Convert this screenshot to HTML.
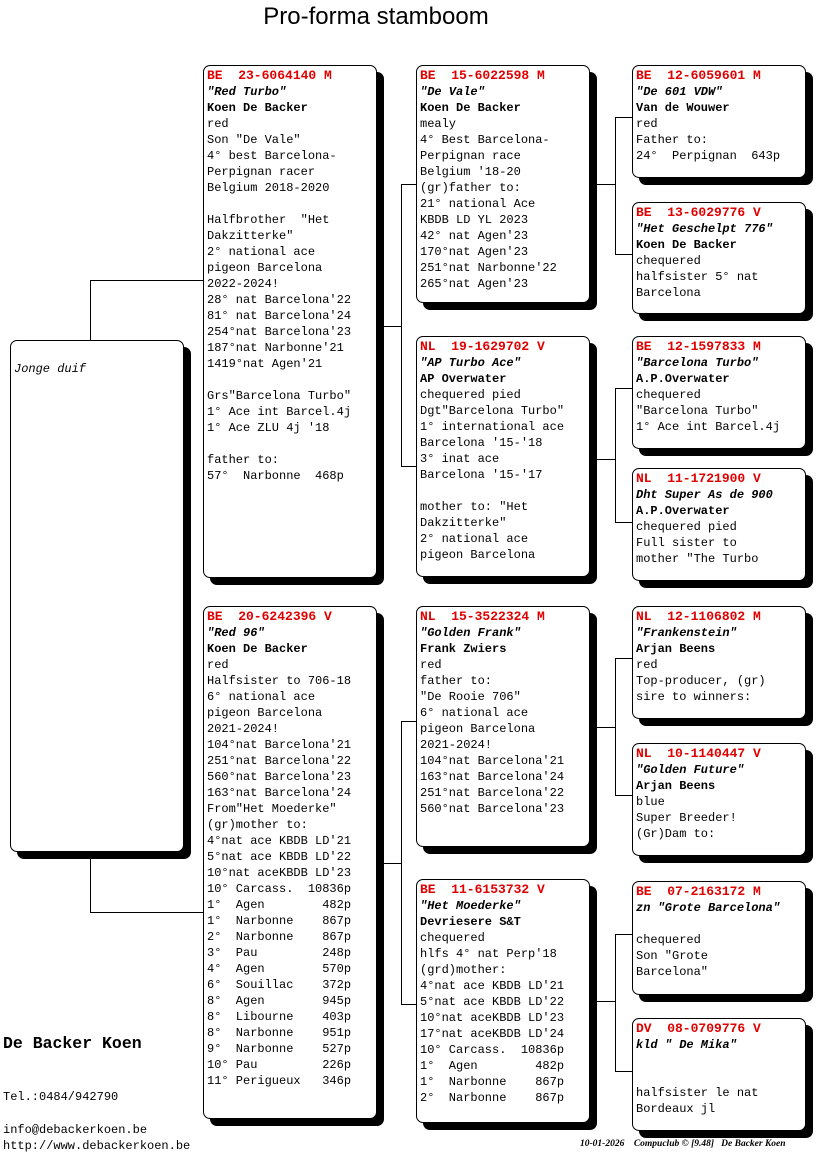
<!DOCTYPE html>
<html><head><meta charset="utf-8"><style>
body{margin:0;width:816px;height:1172px;background:#fff;position:relative;overflow:hidden;font-family:"Liberation Mono",monospace;font-size:12px;color:#000}
.b{position:absolute;border:1px solid #000;border-radius:7px;background:#fff;box-shadow:7px 7px 0 #000;box-sizing:border-box;padding:2px 0 0 3px;line-height:16px;white-space:pre}
.h{color:#e00000;font-weight:bold;font-size:13px}
.i{font-style:italic;font-weight:bold}
.n{font-weight:bold}
.l{position:absolute;background:#000}
.t{position:absolute;white-space:pre}
</style></head><body>
<div class="t" style="left:0;width:752px;top:3px;text-align:center;font-family:'Liberation Sans',sans-serif;font-size:24px">Pro-forma stamboom</div>

<!-- connectors -->
<div class="l" style="left:90px;top:280px;width:1px;height:60px"></div>
<div class="l" style="left:90px;top:280px;width:113px;height:1px"></div>
<div class="l" style="left:90px;top:851px;width:1px;height:62px"></div>
<div class="l" style="left:90px;top:912px;width:113px;height:1px"></div>

<div class="l" style="left:383px;top:326px;width:19px;height:1px"></div>
<div class="l" style="left:401px;top:184px;width:1px;height:283px"></div>
<div class="l" style="left:401px;top:184px;width:15px;height:1px"></div>
<div class="l" style="left:401px;top:466px;width:15px;height:1px"></div>

<div class="l" style="left:383px;top:863px;width:19px;height:1px"></div>
<div class="l" style="left:401px;top:721px;width:1px;height:284px"></div>
<div class="l" style="left:401px;top:721px;width:15px;height:1px"></div>
<div class="l" style="left:401px;top:1004px;width:15px;height:1px"></div>

<div class="l" style="left:596px;top:184px;width:19px;height:1px"></div>
<div class="l" style="left:615px;top:117px;width:1px;height:138px"></div>
<div class="l" style="left:615px;top:117px;width:17px;height:1px"></div>
<div class="l" style="left:615px;top:254px;width:17px;height:1px"></div>

<div class="l" style="left:596px;top:459px;width:19px;height:1px"></div>
<div class="l" style="left:615px;top:388px;width:1px;height:135px"></div>
<div class="l" style="left:615px;top:388px;width:17px;height:1px"></div>
<div class="l" style="left:615px;top:522px;width:17px;height:1px"></div>

<div class="l" style="left:596px;top:727px;width:19px;height:1px"></div>
<div class="l" style="left:615px;top:658px;width:1px;height:138px"></div>
<div class="l" style="left:615px;top:658px;width:17px;height:1px"></div>
<div class="l" style="left:615px;top:795px;width:17px;height:1px"></div>

<div class="l" style="left:596px;top:1001px;width:19px;height:1px"></div>
<div class="l" style="left:615px;top:934px;width:1px;height:138px"></div>
<div class="l" style="left:615px;top:934px;width:17px;height:1px"></div>
<div class="l" style="left:615px;top:1071px;width:17px;height:1px"></div>

<!-- root -->
<div class="b" style="left:10px;top:340px;width:174px;height:512px;padding-top:20px"><span style="font-style:italic">Jonge duif</span></div>

<!-- col2 -->
<div class="b" style="left:203px;top:65px;width:174px;height:513px"><span class="h">BE  23-6064140 M</span>
<span class="i">"Red Turbo"</span>
<span class="n">Koen De Backer</span>
red
Son "De Vale"
4° best Barcelona-
Perpignan racer
Belgium 2018-2020

Halfbrother  "Het
Dakzitterke"
2° national ace
pigeon Barcelona
2022-2024!
28° nat Barcelona'22
81° nat Barcelona'24
254°nat Barcelona'23
187°nat Narbonne'21
1419°nat Agen'21

Grs"Barcelona Turbo"
1° Ace int Barcel.4j
1° Ace ZLU 4j '18

father to:
57°  Narbonne  468p</div>

<div class="b" style="left:203px;top:606px;width:174px;height:513px"><span class="h">BE  20-6242396 V</span>
<span class="i">"Red 96"</span>
<span class="n">Koen De Backer</span>
red
Halfsister to 706-18
6° national ace
pigeon Barcelona
2021-2024!
104°nat Barcelona'21
251°nat Barcelona'22
560°nat Barcelona'23
163°nat Barcelona'24
From"Het Moederke"
(gr)mother to:
4°nat ace KBDB LD'21
5°nat ace KBDB LD'22
10°nat aceKBDB LD'23
10° Carcass.  10836p
1°  Agen        482p
1°  Narbonne    867p
2°  Narbonne    867p
3°  Pau         248p
4°  Agen        570p
6°  Souillac    372p
8°  Agen        945p
8°  Libourne    403p
8°  Narbonne    951p
9°  Narbonne    527p
10° Pau         226p
11° Perigueux   346p</div>

<!-- col3 -->
<div class="b" style="left:416px;top:65px;width:174px;height:238px"><span class="h">BE  15-6022598 M</span>
<span class="i">"De Vale"</span>
<span class="n">Koen De Backer</span>
mealy
4° Best Barcelona-
Perpignan race
Belgium '18-20
(gr)father to:
21° national Ace
KBDB LD YL 2023
42° nat Agen'23
170°nat Agen'23
251°nat Narbonne'22
265°nat Agen'23</div>

<div class="b" style="left:416px;top:336px;width:174px;height:241px"><span class="h">NL  19-1629702 V</span>
<span class="i">"AP Turbo Ace"</span>
<span class="n">AP Overwater</span>
chequered pied
Dgt"Barcelona Turbo"
1° international ace
Barcelona '15-'18
3° inat ace
Barcelona '15-'17

mother to: "Het
Dakzitterke"
2° national ace
pigeon Barcelona</div>

<div class="b" style="left:416px;top:606px;width:174px;height:241px"><span class="h">NL  15-3522324 M</span>
<span class="i">"Golden Frank"</span>
<span class="n">Frank Zwiers</span>
red
father to:
"De Rooie 706"
6° national ace
pigeon Barcelona
2021-2024!
104°nat Barcelona'21
163°nat Barcelona'24
251°nat Barcelona'22
560°nat Barcelona'23</div>

<div class="b" style="left:416px;top:879px;width:174px;height:244px"><span class="h">BE  11-6153732 V</span>
<span class="i">"Het Moederke"</span>
<span class="n">Devriesere S&amp;T</span>
chequered
hlfs 4° nat Perp'18
(grd)mother:
4°nat ace KBDB LD'21
5°nat ace KBDB LD'22
10°nat aceKBDB LD'23
17°nat aceKBDB LD'24
10° Carcass.  10836p
1°  Agen        482p
1°  Narbonne    867p
2°  Narbonne    867p</div>

<!-- col4 -->
<div class="b" style="left:632px;top:65px;width:174px;height:113px"><span class="h">BE  12-6059601 M</span>
<span class="i">"De 601 VDW"</span>
<span class="n">Van de Wouwer</span>
red
Father to:
24°  Perpignan  643p</div>

<div class="b" style="left:632px;top:202px;width:174px;height:112px"><span class="h">BE  13-6029776 V</span>
<span class="i">"Het Geschelpt 776"</span>
<span class="n">Koen De Backer</span>
chequered
halfsister 5° nat
Barcelona</div>

<div class="b" style="left:632px;top:336px;width:174px;height:113px"><span class="h">BE  12-1597833 M</span>
<span class="i">"Barcelona Turbo"</span>
<span class="n">A.P.Overwater</span>
chequered
"Barcelona Turbo"
1° Ace int Barcel.4j</div>

<div class="b" style="left:632px;top:468px;width:174px;height:113px"><span class="h">NL  11-1721900 V</span>
<span class="i">Dht Super As de 900</span>
<span class="n">A.P.Overwater</span>
chequered pied
Full sister to
mother "The Turbo</div>

<div class="b" style="left:632px;top:606px;width:174px;height:113px"><span class="h">NL  12-1106802 M</span>
<span class="i">"Frankenstein"</span>
<span class="n">Arjan Beens</span>
red
Top-producer, (gr)
sire to winners:</div>

<div class="b" style="left:632px;top:743px;width:174px;height:113px"><span class="h">NL  10-1140447 V</span>
<span class="i">"Golden Future"</span>
<span class="n">Arjan Beens</span>
blue
Super Breeder!
(Gr)Dam to:</div>

<div class="b" style="left:632px;top:881px;width:174px;height:114px"><span class="h">BE  07-2163172 M</span>
<span class="i">zn "Grote Barcelona"</span>

chequered
Son "Grote
Barcelona"</div>

<div class="b" style="left:632px;top:1018px;width:174px;height:113px"><span class="h">DV  08-0709776 V</span>
<span class="i">kld " De Mika"</span>


halfsister le nat
Bordeaux jl</div>

<div class="t" style="left:3px;top:1034px;font-weight:bold;font-size:16.5px">De Backer Koen</div>
<div class="t" style="left:3px;top:1090px;font-size:12px">Tel.:0484/942790</div>
<div class="t" style="left:3px;top:1123px;font-size:12px">info@debackerkoen.be</div>
<div class="t" style="left:3px;top:1139px;font-size:12px">http://www.debackerkoen.be</div>
<div class="t" style="left:580px;top:1139px;font-size:9.5px;font-style:italic;font-weight:bold;font-family:'Liberation Serif',serif">10-01-2026    Compuclub © [9.48]   De Backer Koen</div>
</body></html>
